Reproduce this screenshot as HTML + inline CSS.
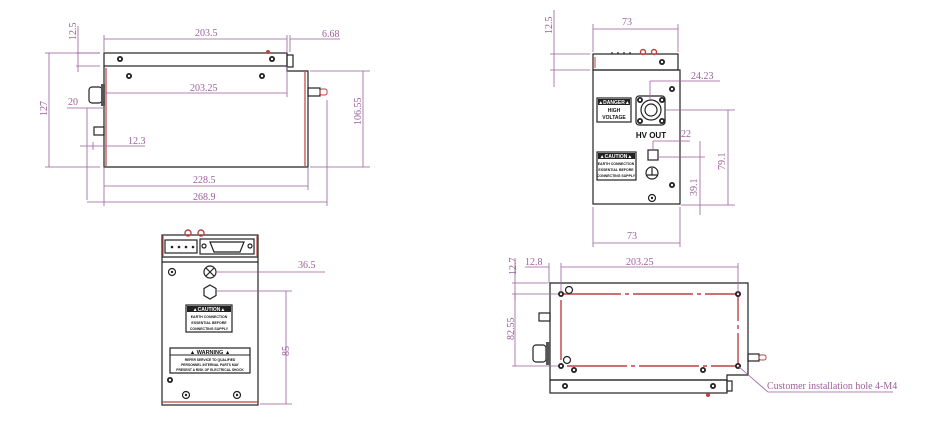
<!DOCTYPE html>
<html><head><meta charset="utf-8"><style>
html,body{margin:0;padding:0;background:#fff}
svg{display:block}
.d{stroke:#9b5f9b;stroke-width:0.8;fill:none}
.t{fill:#9b5f9b;font-family:"Liberation Serif",serif;font-size:10px}
.k{stroke:#222;stroke-width:1.2;fill:none}
.r{stroke:#c04040;stroke-width:1.4;fill:none}
.lbl{font-family:"Liberation Sans",sans-serif;font-weight:bold;fill:#111}
</style></head><body>
<svg width="929" height="424" viewBox="0 0 929 424" xmlns="http://www.w3.org/2000/svg">
<defs>
<g id="sc"><circle r="3" fill="#222"/><circle r="1.2" fill="#fff"/></g>
<g id="oc"><circle r="3.5" fill="none" stroke="#222" stroke-width="1.2"/><circle r="1.2" fill="#222"/></g>
</defs>

<!-- ===== TOP-LEFT VIEW ===== -->
<rect x="104" y="53" width="183" height="13" class="k"/>
<path d="M104 66 V167 H308 V71 H287 V66" class="k"/>
<line x1="106" y1="68" x2="106" y2="166" stroke="#c04040" stroke-width="1.2"/>
<line x1="305" y1="72" x2="305" y2="166" stroke="#c04040" stroke-width="1.2"/>
<rect x="287" y="55" width="6" height="12" class="k"/>
<circle cx="268" cy="52" r="2" fill="#c04040"/>
<rect x="89" y="87" width="13" height="16" rx="3" class="k"/>
<rect x="101" y="84" width="4" height="22" fill="#555"/>
<rect x="94" y="127" width="10" height="8" class="k"/>
<rect x="308" y="88" width="12" height="8" class="k"/>
<rect x="320" y="89" width="7" height="6" rx="2" fill="none" stroke="#c04040"/>
<use href="#sc" x="120" y="59"/><use href="#sc" x="272" y="59"/>
<use href="#sc" x="129" y="76"/><use href="#sc" x="262" y="76"/>
<!-- dims -->
<path d="M104 35 V52 M287 35 V52 M104 39 H287 M290 39 H340 M290 35 V52" class="d"/>
<text x="195" y="36" class="t">203.5</text>
<text x="322" y="37" class="t">6.68</text>
<path d="M76 53 H100 M76 66 H100 M78 26 V72" class="d"/>
<text class="t" transform="translate(76,40) rotate(-90)">12.5</text>
<path d="M104 93 H287 M287 66 V97" class="d"/>
<text x="190" y="91" class="t">203.25</text>
<path d="M45 53 H100 M45 167 H100 M49 53 V167" class="d"/>
<text class="t" transform="translate(47,116) rotate(-90)">127</text>
<path d="M67 108 H103 M87 108 V200" class="d"/>
<text x="68" y="105" class="t">20</text>
<path d="M80 146 H145 M93 142 V150" class="d"/>
<text x="128" y="144" class="t">12.3</text>
<path d="M310 71 H370 M310 167 H370 M363 71 V167" class="d"/>
<text class="t" transform="translate(361,125) rotate(-90)">106.55</text>
<path d="M104 168 V206 M308 168 V190 M104 186 H308 M87 202 H327 M327 100 V206" class="d"/>
<text x="193" y="183" class="t">228.5</text>
<text x="193" y="200" class="t">268.9</text>

<!-- ===== TOP-RIGHT VIEW ===== -->
<rect x="593" y="54" width="85" height="16" class="k"/>
<rect x="593" y="70" width="87" height="134" class="k"/>
<line x1="595" y1="57" x2="595" y2="68" stroke="#c04040"/>
<circle cx="643" cy="52" r="2.5" class="r" stroke-width="1"/><circle cx="654" cy="52" r="2.5" class="r" stroke-width="1"/>
<path d="M612 54 V52 M618 54 V52 M624 54 V52 M630 54 V52" class="k"/>
<use href="#sc" x="662" y="62"/><use href="#sc" x="672" y="89"/><use href="#sc" x="672" y="185"/><use href="#oc" x="652" y="198"/>
<rect x="636" y="96" width="29" height="29" rx="3" class="k" stroke-width="1.6"/>
<circle cx="651" cy="110" r="10" class="k"/><circle cx="651" cy="110" r="6" class="k"/>
<use href="#sc" x="640" y="100"/><use href="#sc" x="662" y="100"/><use href="#sc" x="640" y="121"/><use href="#sc" x="662" y="121"/>
<text x="651" y="138" class="lbl" font-size="8" text-anchor="middle">HV OUT</text>
<rect x="597" y="98" width="34" height="24" class="k" stroke-width="1"/>
<rect x="598" y="99" width="32" height="6" fill="#222"/>
<text x="614" y="104" fill="#fff" font-family="Liberation Sans" font-size="5" font-weight="bold" text-anchor="middle">▲DANGER▲</text>
<text x="614" y="112" class="lbl" font-size="5" text-anchor="middle">HIGH</text>
<text x="614" y="119" class="lbl" font-size="5" text-anchor="middle">VOLTAGE</text>
<rect x="597" y="152" width="39" height="28" class="k" stroke-width="1"/>
<rect x="598" y="153" width="37" height="6" fill="#222"/>
<text x="616" y="158" fill="#fff" font-family="Liberation Sans" font-size="5" font-weight="bold" text-anchor="middle">▲CAUTION▲</text>
<text x="616" y="165" class="lbl" font-size="3.5" text-anchor="middle">EARTH CONNECTION</text>
<text x="616" y="171" class="lbl" font-size="3.5" text-anchor="middle">ESSENTIAL BEFORE</text>
<text x="616" y="177" class="lbl" font-size="3.5" text-anchor="middle">CONNECTING SUPPLY</text>
<rect x="648" y="150" width="10" height="10" class="k"/>
<circle cx="652" cy="173" r="6" class="k"/><path d="M652 168 V175 M647 175 H657" class="k" stroke-width="0.8"/>
<!-- dims -->
<path d="M593 24 V52 M678 24 V52 M593 29 H678" class="d"/>
<text x="622" y="25" class="t" font-size="12">73</text>
<path d="M550 54 H590 M550 70 H590 M554 10 V87" class="d"/>
<text class="t" font-size="11" transform="translate(552,34) rotate(-90)">12.5</text>
<path d="M650 81 H720 M650 81 V100" class="d"/>
<text x="691" y="79" class="t" font-size="12">24.23</text>
<path d="M665 110 H735 M681 205 H735 M728 110 V205" class="d"/>
<text class="t" font-size="12" transform="translate(725,170) rotate(-90)">79.1</text>
<path d="M653 141 H690 M653 141 V150 M658 157 H705 M700 141 V215" class="d"/>
<text x="681" y="137" class="t" font-size="12">22</text>
<text class="t" font-size="12" transform="translate(697,196) rotate(-90)">39.1</text>
<path d="M593 207 V247 M680 207 V247 M593 243 H680" class="d"/>
<text x="627" y="239" class="t" font-size="12">73</text>

<!-- ===== BOTTOM-LEFT VIEW ===== -->
<rect x="162" y="235" width="96" height="170" class="k"/>
<path d="M162 257 H258 M162 262 H258" class="k" stroke-width="0.8"/>
<path d="M163 236 V256 M257 236 V256 M162 402 H258" stroke="#c04040" stroke-width="1.2"/>
<circle cx="188" cy="233" r="3" class="r" stroke-width="1"/><circle cx="201" cy="233" r="3" class="r" stroke-width="1"/>
<rect x="165" y="240" width="32" height="13" class="k"/>
<circle cx="172" cy="247" r="1.3" fill="#222"/><circle cx="179" cy="247" r="1.3" fill="#222"/><circle cx="186" cy="247" r="1.3" fill="#222"/><circle cx="193" cy="247" r="1.3" fill="#222"/>
<rect x="200" y="239" width="54" height="15" class="k"/>
<path d="M210 242 H244 L240 252 H214 Z" class="k" stroke-width="1"/>
<circle cx="204" cy="246" r="2" class="k" stroke-width="0.8"/><circle cx="250" cy="246" r="2" class="k" stroke-width="0.8"/>
<use href="#oc" x="172" y="272"/>
<circle cx="210" cy="272" r="6" class="k" stroke-width="1.6"/><path d="M206 268 L214 276 M214 268 L206 276" class="k" stroke-width="0.8"/>
<polygon points="210,285 216,288.5 216,295.5 210,299 204,295.5 204,288.5" class="k" stroke-width="1.8"/>
<rect x="186" y="305" width="46" height="27" class="k" stroke-width="1"/>
<rect x="187" y="306" width="44" height="6" fill="#222"/>
<text x="209" y="311" fill="#fff" font-family="Liberation Sans" font-size="5" font-weight="bold" text-anchor="middle">▲CAUTION▲</text>
<text x="209" y="318" class="lbl" font-size="3.5" text-anchor="middle">EARTH CONNECTION</text>
<text x="209" y="324" class="lbl" font-size="3.5" text-anchor="middle">ESSENTIAL BEFORE</text>
<text x="209" y="330" class="lbl" font-size="3.5" text-anchor="middle">CONNECTING SUPPLY</text>
<rect x="170" y="348" width="80" height="25" class="k" stroke-width="1"/>
<line x1="170" y1="355" x2="250" y2="355" stroke="#222"/>
<text x="210" y="354" class="lbl" font-size="5.5" text-anchor="middle">▲      WARNING      ▲</text>
<text x="210" y="361" class="lbl" font-size="3.3" text-anchor="middle">REFER SERVICE TO QUALIFIED</text>
<text x="210" y="366" class="lbl" font-size="3.3" text-anchor="middle">PERSONNEL INTERNAL PARTS MAY</text>
<text x="210" y="371" class="lbl" font-size="3.3" text-anchor="middle">PRESENT A RISK OF ELECTRICAL SHOCK</text>
<use href="#sc" x="170" y="380"/><use href="#oc" x="186" y="395"/><use href="#oc" x="237" y="395"/>
<path d="M216 272 H325 M216 291 H292 M260 404 H292 M286 291 V404" class="d"/>
<text x="298" y="268" class="t" font-size="13">36.5</text>
<text class="t" font-size="13" transform="translate(289,356) rotate(-90)">85</text>

<!-- ===== BOTTOM-RIGHT VIEW ===== -->
<path d="M550 283 H748 V375 H727 V380 H550 Z" class="k"/>
<rect x="550" y="380" width="177" height="13" class="k"/>
<rect x="727" y="381" width="5" height="10" class="k"/>
<circle cx="708" cy="395" r="2" fill="#c04040"/>
<path d="M561 294 H738 V366 H561 Z" class="r" stroke="#e08080" stroke-dasharray="60,4,4,4"/>
<use href="#sc" x="561" y="294"/><use href="#sc" x="738" y="294"/><use href="#sc" x="561" y="366"/><use href="#sc" x="738" y="366"/>
<circle cx="569" cy="290" r="3.5" class="k"/><circle cx="567" cy="360" r="3.5" class="k"/>
<use href="#sc" x="574" y="370"/><use href="#sc" x="703" y="370"/><use href="#sc" x="565" y="386"/><use href="#sc" x="713" y="386"/>
<rect x="539" y="313" width="11" height="8" class="k"/>
<rect x="533" y="345" width="13" height="17" rx="3" class="k"/><rect x="546" y="342" width="4" height="23" fill="#555"/>
<rect x="748" y="354" width="11" height="7" class="k"/>
<rect x="759" y="355" width="7" height="5" rx="2" fill="none" stroke="#c04040"/>
<path d="M512 283 H548 M512 294 H558 M515 258 V300" class="d"/>
<text class="t" transform="translate(516,275) rotate(-90)">12.7</text>
<path d="M525 267 H549 M549 263 V283 M561 263 V294 M738 263 V294 M561 267 H738" class="d"/>
<text x="525" y="265" class="t">12.8</text>
<text x="626" y="265" class="t">203.25</text>
<path d="M515 294 V366 M512 366 H558" class="d"/>
<text class="t" transform="translate(514,340) rotate(-90)">82.55</text>
<path d="M738 366 L768 392 H893" class="d"/>
<text x="767" y="389" class="t" font-size="9">Customer installation hole 4-M4</text>
</svg>
</body></html>
